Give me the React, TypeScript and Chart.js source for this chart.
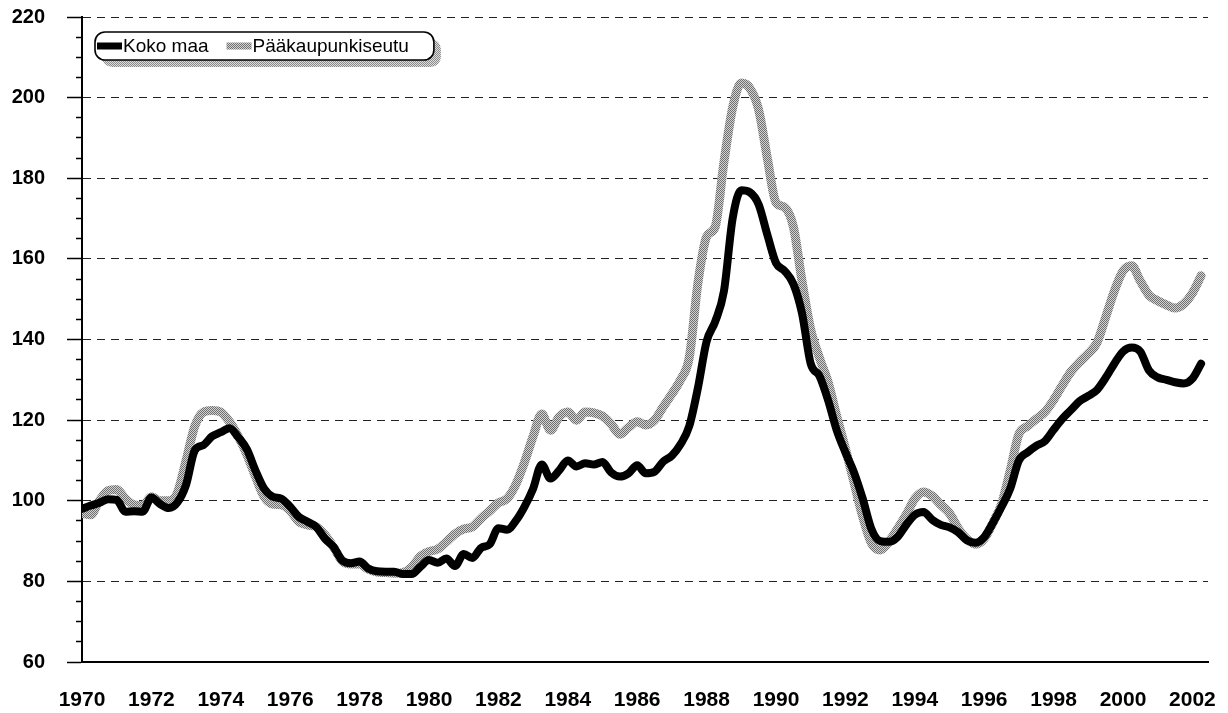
import { useEffect, useRef } from 'react';
import { Chart, registerables } from 'chart.js';

Chart.register(...registerables);

// ---------- data ----------
const START_YEAR = 1970; // first quarter of the series
const X_MIN = 1970;
const X_MAX = 2002.45;
const YEAR_TICKS = [1970, 1972, 1974, 1976, 1978, 1980, 1982, 1984, 1986, 1988, 1990, 1992, 1994, 1996, 1998, 2000, 2002];
const Y_MIN = 60;
const Y_MAX = 220;
const Y_MAJOR_STEP = 20;
const Y_MINOR_STEP = 5;
const SERIES_NAMES = ['Koko maa', 'Pääkaupunkiseutu'];

// quarterly index values, 1970 Q1 ... 2002 Q2
const kokoMaa = [
  98, 98.8, 99.5, 100.4,
  100.2, 97.3, 97.4, 97.3,
  100.8, 99.2, 98.2, 99.6,
  104, 112.5, 113.8, 116,
  117, 118, 115.8, 112.8,
  107.5, 103, 101, 100.5,
  98.5, 96, 94.8, 93.5,
  90.6, 88.5, 85.2, 84.5,
  84.9, 83.2, 82.5, 82.4,
  82.4, 81.8, 81.8, 83.6,
  85.3, 84.6, 85.7, 83.8,
  86.8, 85.8, 88.3, 89.2,
  93.2, 92.8, 95, 98.5,
  103, 109, 105.5, 107.5,
  110, 108.5, 109.3, 109,
  109.6, 107, 106, 106.8,
  108.8, 106.8, 107.2, 109.7,
  111.2, 114, 118.5, 128,
  139.5, 144.5, 152, 170,
  177, 176.5, 173.5, 166,
  159, 157, 153.8, 146.5,
  134, 131, 125, 117.5,
  112, 107, 100.5, 93,
  90, 89.8, 91, 94,
  96.5, 97.2, 95.3, 94,
  93.4, 92.2, 90.2, 89.6,
  91, 94.5, 98.5, 103,
  110, 112, 113.6, 114.8,
  117.6, 120.3, 122.5, 124.7,
  126, 127.5, 130.5, 134,
  137, 138, 137, 132.3,
  130.6, 130, 129.4, 129.1,
  130.3, 134,
];

const paakaupunkiseutu = [
  96.9, 96.5, 100, 102.5,
  102.8, 100.5, 99, 98.8,
  101, 100, 100, 102,
  110, 118.5, 122, 122.4,
  122, 119.6, 116, 111.5,
  106, 101, 99.2, 99,
  97.5, 94.8, 94, 93.5,
  91.5, 88.5, 85, 84.3,
  84.3, 83, 82.3, 82.2,
  82, 82.2, 83.5, 86.2,
  87.4, 88, 89.8, 91.8,
  93, 93.5, 95.6, 97.5,
  99.5, 100.5, 104, 109.5,
  116, 121.5, 117.5, 120.8,
  122, 120, 122, 121.8,
  121, 119, 116.5, 118.2,
  119.6, 118.8, 120, 123.3,
  126.5, 130, 135.5, 154,
  165.5, 168, 184, 197.5,
  203.6, 202.3, 197, 185,
  174, 172.8, 168, 154.5,
  142.5, 135.5, 129.5, 121,
  113, 104.5, 96, 89.5,
  87.8, 89.8, 93, 96.5,
  100.5, 102.2, 101.2, 99,
  96.9, 93.2, 90.5, 89.2,
  90.6, 94.5, 99.2, 107.5,
  116.5, 118.5, 120.3, 122,
  125, 128.6, 132, 134.4,
  136.5, 139.2, 145.5, 152,
  157, 158.3, 154.5, 151,
  149.6, 148.6, 147.8, 148.8,
  151.5, 155.8,
];

const quarterYears = kokoMaa.map((_, i) => START_YEAR + i / 4);

// ---------- styling ----------
const FONT = '"Liberation Sans", Arial, Helvetica, sans-serif';

function makeDither(dark: string, light: string): CanvasPattern | string {
  const c = document.createElement('canvas');
  c.width = 2;
  c.height = 2;
  const g = c.getContext('2d');
  if (!g) return '#a0a0a0';
  g.fillStyle = light;
  g.fillRect(0, 0, 2, 2);
  g.fillStyle = dark;
  g.fillRect(0, 0, 1, 1);
  g.fillRect(1, 1, 1, 1);
  const p = g.createPattern(c, 'repeat');
  return p || '#a0a0a0';
}

function roundPath(ctx: CanvasRenderingContext2D, x: number, y: number, w: number, h: number, r: number) {
  ctx.beginPath();
  ctx.moveTo(x + r, y);
  ctx.lineTo(x + w - r, y);
  ctx.arcTo(x + w, y, x + w, y + r, r);
  ctx.lineTo(x + w, y + h - r);
  ctx.arcTo(x + w, y + h, x + w - r, y + h, r);
  ctx.lineTo(x + r, y + h);
  ctx.arcTo(x, y + h, x, y + h - r, r);
  ctx.lineTo(x, y + r);
  ctx.arcTo(x, y, x + r, y, r);
  ctx.closePath();
}

export default function App() {
  const canvasRef = useRef<HTMLCanvasElement | null>(null);

  useEffect(() => {
    const canvas = canvasRef.current;
    if (!canvas) return;
    const grayPattern = makeDither('#707070', '#d2d2d2');
    const shadowPattern = makeDither('#8a8a8a', '#dedede');

    // framed legend inside the plot area (rounded box with a stippled shadow)
    const boxedLegend = {
      id: 'boxedLegend',
      afterDraw(chart: any) {
        const ctx: CanvasRenderingContext2D = chart.ctx;
        const area = chart.chartArea;
        const fx = area.left + 13;
        const fy = area.top + 15;
        const fh = 28;
        const sampleW = 25;
        const sampleH = 7;
        const cy = fy + fh / 2;
        ctx.save();
        ctx.font = `19px ${FONT}`;
        const items = chart.data.datasets.map((ds: any) => ({
          text: ds.label as string,
          color: ds.borderColor,
          w: ctx.measureText(ds.label).width,
        }));
        let total = 2;
        items.forEach((it: any, i: number) => {
          total += sampleW + 1 + it.w + (i < items.length - 1 ? 18 : 25);
        });
        const fw = total;
        roundPath(ctx, fx + 7, fy + 7, fw, fh, 10);
        ctx.fillStyle = shadowPattern as any;
        ctx.fill();
        roundPath(ctx, fx, fy, fw, fh, 10);
        ctx.fillStyle = '#ffffff';
        ctx.fill();
        ctx.lineWidth = 1.6;
        ctx.strokeStyle = '#000000';
        ctx.stroke();
        let x = fx + 2;
        items.forEach((it: any) => {
          ctx.fillStyle = it.color;
          ctx.fillRect(x, cy - sampleH / 2, sampleW, sampleH);
          x += sampleW + 1;
          ctx.fillStyle = '#000000';
          ctx.textBaseline = 'middle';
          ctx.textAlign = 'left';
          ctx.fillText(it.text, x, cy + 1);
          x += it.w + 18;
        });
        ctx.restore();
      },
    };

    const isMajor = (v: number) => Math.abs(v % Y_MAJOR_STEP) < 1e-6;

    const chart = new Chart(canvas, {
      type: 'line',
      data: {
        datasets: [
          {
            label: SERIES_NAMES[0],
            data: quarterYears.map((x, i) => ({ x, y: kokoMaa[i] })),
            borderColor: '#000000',
            backgroundColor: '#000000',
            borderWidth: 8,
            pointRadius: 0,
            cubicInterpolationMode: 'monotone',
            borderCapStyle: 'round',
            borderJoinStyle: 'round',
          },
          {
            label: SERIES_NAMES[1],
            data: quarterYears.map((x, i) => ({ x, y: paakaupunkiseutu[i] })),
            borderColor: grayPattern as any,
            backgroundColor: grayPattern as any,
            borderWidth: 9,
            pointRadius: 0,
            cubicInterpolationMode: 'monotone',
            borderCapStyle: 'round',
            borderJoinStyle: 'round',
          },
        ],
      },
      options: {
        animation: false,
        responsive: true,
        maintainAspectRatio: false,
        layout: { padding: { left: 0, top: 17, right: 20, bottom: 0 } },
        plugins: {
          tooltip: { enabled: false },
          legend: { display: false },
        },
        scales: {
          x: {
            type: 'linear',
            position: 'bottom',
            min: X_MIN,
            max: X_MAX,
            afterBuildTicks: (scale: any) => {
              scale.ticks = YEAR_TICKS.map((v) => ({ value: v }));
            },
            afterFit: (scale: any) => {
              scale.height = 51;
              scale.paddingLeft = 0;
              scale.paddingRight = 0;
            },
            ticks: {
              autoSkip: false,
              maxRotation: 0,
              minRotation: 0,
              padding: 26,
              color: '#000000',
              font: { family: FONT, size: 21, weight: 'bold' },
              callback: (v: any) => String(v),
            },
            grid: { display: false, drawTicks: false },
            border: { display: true, color: '#000000', width: 2 },
          },
          y: {
            type: 'linear',
            position: 'left',
            min: Y_MIN,
            max: Y_MAX,
            afterFit: (scale: any) => {
              scale.width = 82;
              scale.paddingTop = 0;
              scale.paddingBottom = 0;
            },
            ticks: {
              stepSize: Y_MINOR_STEP,
              autoSkip: false,
              padding: 22,
              color: '#000000',
              font: { family: FONT, size: 20, weight: 'bold' },
              callback: (v: any) => (isMajor(Number(v)) ? String(v) : ''),
            },
            grid: {
              drawOnChartArea: true,
              drawTicks: true,
              tickLength: 15,
              lineWidth: 1,
              color: (ctx: any) => (ctx.tick && isMajor(ctx.tick.value) ? '#222222' : 'rgba(0,0,0,0)'),
              tickColor: '#000000',
              tickWidth: 1.5,
              tickBorderDash: (ctx: any) => (ctx.tick && isMajor(ctx.tick.value) ? [] : [0, 9, 6, 100]),
            },
            border: { display: true, color: '#000000', width: 2, dash: [8, 6] },
          },
        },
      },
      plugins: [boxedLegend],
    } as any);

    return () => {
      chart.destroy();
    };
  }, []);

  return (
    <div style={{ position: 'absolute', left: 0, top: 0, width: 1228, height: 713, background: '#ffffff' }}>
      <canvas ref={canvasRef} />
    </div>
  );
}
